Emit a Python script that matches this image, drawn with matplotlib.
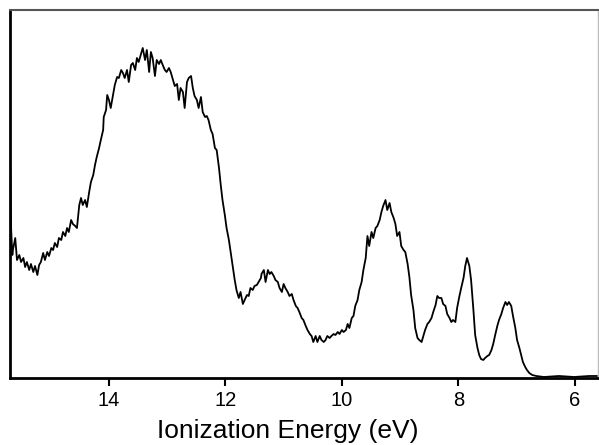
import matplotlib
matplotlib.use("Agg")
import matplotlib.pyplot as plt

energy_ev = [
    15.70, 15.68, 15.66, 15.65, 15.61, 15.59, 15.58, 15.54, 15.51, 15.47,
    15.44, 15.41, 15.37, 15.34, 15.30, 15.27, 15.23, 15.20, 15.17, 15.13,
    15.10, 15.06, 15.03, 14.99, 14.96, 14.93, 14.89, 14.86, 14.82, 14.79,
    14.75, 14.72, 14.69, 14.65, 14.62, 14.58, 14.55, 14.51, 14.48, 14.45,
    14.41, 14.38, 14.34, 14.31, 14.27, 14.24, 14.21, 14.17, 14.14, 14.10,
    14.09, 14.05, 14.03, 14.00, 13.97, 13.93, 13.90, 13.86, 13.83, 13.79,
    13.76, 13.73, 13.69, 13.66, 13.62, 13.59, 13.55, 13.52, 13.49, 13.45,
    13.42, 13.38, 13.35, 13.31, 13.28, 13.25, 13.21, 13.18, 13.14, 13.11,
    13.07, 13.04, 13.01, 12.97, 12.94, 12.90, 12.87, 12.83, 12.80, 12.77,
    12.73, 12.70, 12.66, 12.63, 12.59, 12.56, 12.53, 12.49, 12.46, 12.42,
    12.39, 12.35, 12.32, 12.29, 12.25, 12.22, 12.18, 12.15, 12.11, 12.08,
    12.05, 12.01, 11.98, 11.94, 11.91, 11.87, 11.84, 11.81, 11.77, 11.74,
    11.70, 11.67, 11.63, 11.60, 11.57, 11.53, 11.50, 11.46, 11.43, 11.39,
    11.38, 11.34, 11.31, 11.27, 11.24, 11.21, 11.17, 11.14, 11.10, 11.07,
    11.03, 11.00, 10.97, 10.93, 10.90, 10.86, 10.83, 10.79, 10.76, 10.73,
    10.69, 10.66, 10.62, 10.59, 10.55, 10.52, 10.49, 10.45, 10.42, 10.38,
    10.35, 10.31, 10.28, 10.25, 10.21, 10.18, 10.14, 10.11, 10.07, 10.04,
    10.00, 9.97, 9.93, 9.90, 9.87, 9.83, 9.80, 9.77, 9.73, 9.70,
    9.66, 9.63, 9.59, 9.56, 9.53, 9.49, 9.46, 9.42, 9.39, 9.35,
    9.32, 9.29, 9.25, 9.22, 9.18, 9.15, 9.11, 9.08, 9.05, 9.01,
    8.98, 8.94, 8.91, 8.87, 8.84, 8.81, 8.77, 8.74, 8.70, 8.67,
    8.63, 8.60, 8.57, 8.53, 8.50, 8.46, 8.43, 8.39, 8.36, 8.33,
    8.29, 8.26, 8.22, 8.19, 8.15, 8.12, 8.09, 8.05, 8.02, 7.98,
    7.95, 7.91, 7.88, 7.85, 7.81, 7.78, 7.74, 7.71, 7.67, 7.64,
    7.61, 7.57, 7.54, 7.50, 7.47, 7.43, 7.40, 7.37, 7.33, 7.30,
    7.26, 7.23, 7.19, 7.16, 7.13, 7.09, 7.06, 7.02, 6.99, 6.95,
    6.92, 6.89, 6.85, 6.82, 6.78, 6.73, 6.66, 6.53, 6.27, 6.01,
    5.75, 5.62,
]

intensity = [
    218, 148, 123, 128, 140, 126, 118, 123, 116, 120,
    111, 116, 108, 114, 106, 112, 103, 113, 116, 125,
    118, 126, 122, 130, 128, 135, 131, 140, 138, 146,
    142, 150, 146, 158, 154, 152, 150, 173, 180, 173,
    178, 171, 186, 196, 203, 213, 221, 230, 238, 248,
    261, 268, 283, 278, 270, 283, 293, 301, 300, 308,
    305, 300, 308, 296, 313, 315, 308, 320, 316, 324,
    330, 318, 328, 306, 326, 320, 302, 318, 314, 318,
    312, 308, 306, 310, 306, 298, 292, 294, 278, 290,
    286, 270, 296, 300, 302, 290, 282, 278, 270, 281,
    266, 261, 262, 258, 248, 244, 230, 228, 210, 193,
    178, 163, 150, 138, 126, 110, 98, 88, 80, 86,
    74, 78, 83, 82, 90, 88, 92, 93, 96, 100,
    104, 108, 96, 108, 104, 106, 102, 98, 96, 90,
    86, 94, 90, 86, 82, 84, 78, 72, 70, 66,
    60, 58, 52, 48, 44, 42, 36, 42, 36, 42,
    38, 36, 38, 42, 40, 42, 44, 43, 46, 44,
    48, 46, 48, 54, 50, 60, 62, 72, 78, 88,
    96, 108, 120, 142, 132, 146, 140, 150, 152, 158,
    166, 172, 178, 168, 175, 166, 160, 154, 142, 146,
    132, 128, 126, 114, 101, 83, 68, 50, 40, 38,
    36, 42, 48, 54, 56, 60, 66, 73, 82, 80,
    80, 74, 72, 64, 60, 56, 58, 56, 70, 82,
    90, 100, 112, 120, 112, 98, 68, 43, 30, 23,
    19, 18, 20, 22, 23, 28, 34, 42, 52, 58,
    64, 70, 76, 73, 76, 72, 62, 50, 38, 30,
    23, 16, 11, 8, 5, 3, 2, 1, 2, 1,
    2, 2,
]

x_ticks = [14, 12, 10, 8, 6]
x_label = "Ionization Energy (eV)"

plt.rcParams['font.family'] = ['Liberation Sans', 'DejaVu Sans']

fig = plt.figure(figsize=(5.99, 4.45), dpi=100)
ax = fig.add_axes([10 / 599, 67 / 445, 588 / 599, 368 / 445])
ax.plot(energy_ev, intensity, color='black', linewidth=1.3)

ax.set_xlim(15.70, 5.60)
ax.set_ylim(0, 368)
ax.set_xticks(x_ticks)
ax.set_xticklabels([str(t) for t in x_ticks])
ax.set_yticks([])
ax.tick_params(axis='x', direction='out', length=6, width=1.5, labelsize=14.5, pad=3)

fig.text(288 / 599, 7 / 445, x_label, fontsize=19, ha='center', va='baseline')

ax.spines['left'].set_linewidth(2)
ax.spines['left'].set_color('black')
ax.spines['bottom'].set_linewidth(2)
ax.spines['bottom'].set_color('black')
ax.spines['top'].set_linewidth(1.5)
ax.spines['top'].set_color('#555555')
ax.spines['right'].set_linewidth(1)
ax.spines['right'].set_color('#bbbbbb')

fig.savefig("out.png", dpi=100)
